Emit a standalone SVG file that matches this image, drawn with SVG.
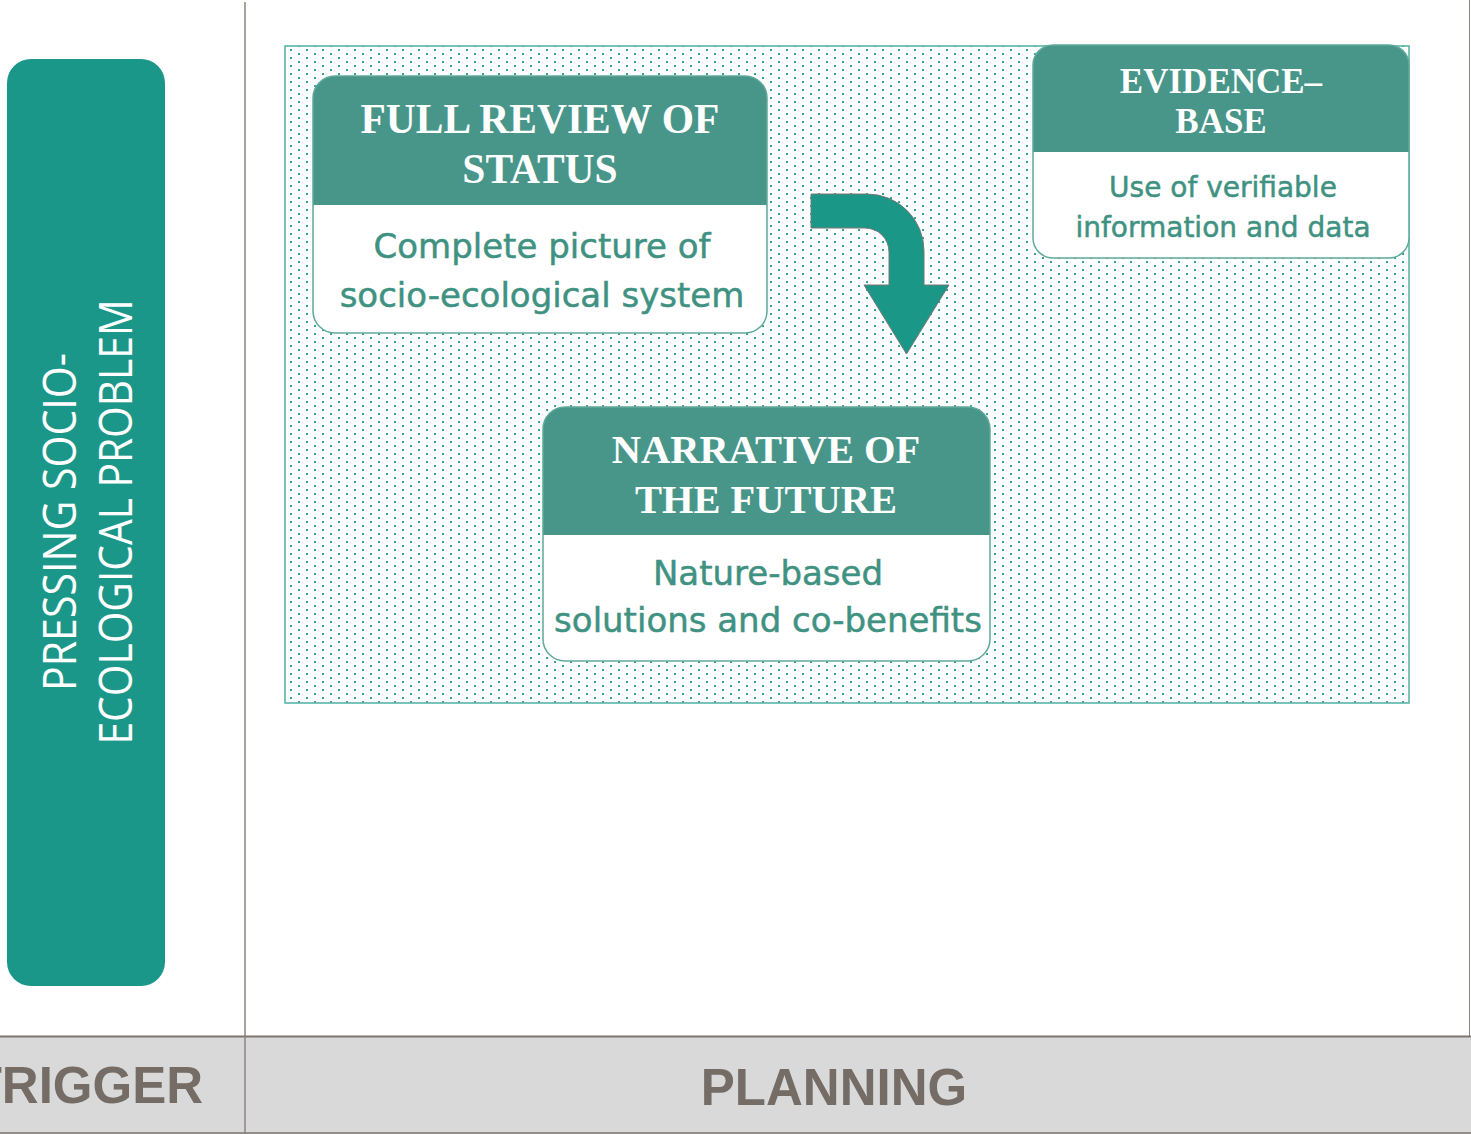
<svg xmlns="http://www.w3.org/2000/svg" width="1471" height="1134" viewBox="0 0 1471 1134">
<defs>
<pattern id="dots" x="0" y="0" width="16" height="8" patternUnits="userSpaceOnUse">
<rect x="2.1" y="1.1" width="1.9" height="1.9" fill="#1f9a8a"/>
<rect x="10.1" y="5.1" width="1.9" height="1.9" fill="#1f9a8a"/>
</pattern>
<style>
.hdr{fill:#48968a}
.box{fill:none;stroke:#5fa99b;stroke-width:1.5}
.body{fill:#ffffff}
.title{font-family:"Liberation Serif","Times New Roman",serif;font-weight:bold;fill:#ffffff;text-anchor:middle}
.sub{font-family:"DejaVu Sans","Liberation Sans",sans-serif;fill:#3f9282;stroke:#3f9282;stroke-width:0.5;text-anchor:middle}
.band{font-family:"Liberation Sans",Arial,sans-serif;font-weight:bold;font-size:51px;fill:#756c65}
.side{font-family:"Open Sans","Liberation Sans",sans-serif;font-weight:400;font-size:46px;fill:#ffffff;text-anchor:middle}
</style>
</defs>
<rect width="1471" height="1134" fill="#ffffff"/>

<g id="frame">
<line x1="245" y1="2" x2="245" y2="1134" stroke="#8c847e" stroke-width="1.5"/>
<line x1="1469.5" y1="0" x2="1469.5" y2="1036" stroke="#8c847e" stroke-width="1"/>
<rect x="0" y="1036" width="1471" height="98" fill="#d9d9d9"/>
<line x1="0" y1="1036.5" x2="1471" y2="1036.5" stroke="#7d756f" stroke-width="2"/>
<line x1="0" y1="1133" x2="1471" y2="1133" stroke="#7d756f" stroke-width="1.5"/>
<line x1="245" y1="1036" x2="245" y2="1134" stroke="#8c847e" stroke-width="1.5"/>
<text class="band" x="203" y="1103" text-anchor="end">TRIGGER</text>
<text class="band" x="834" y="1105" text-anchor="middle">PLANNING</text>
</g>

<g id="trigger-node">
<rect x="7" y="59" width="158" height="927" rx="24" ry="24" fill="#1a9789"/>
<text class="side" transform="translate(76,522) rotate(-90)" textLength="338" lengthAdjust="spacingAndGlyphs">PRESSING SOCIO-</text>
<text class="side" transform="translate(132,522) rotate(-90)" textLength="445" lengthAdjust="spacingAndGlyphs">ECOLOGICAL PROBLEM</text>
</g>

<g id="planning-area">
<rect x="285" y="46" width="1124" height="657" fill="url(#dots)" stroke="#4fb0a2" stroke-width="1.5"/>
</g>

<g id="full-review">
<rect class="body" x="313" y="76" width="454" height="257" rx="22"/>
<path class="hdr" d="M313,98 A22,22 0 0 1 335,76 H745 A22,22 0 0 1 767,98 V205 H313 Z"/>
<rect class="box" x="313" y="76" width="454" height="257" rx="22"/>
<text class="title" x="540" y="133" font-size="41.5">FULL REVIEW OF</text>
<text class="title" x="540" y="183" font-size="41.5">STATUS</text>
<text class="sub" x="542" y="258" font-size="34">Complete picture of</text>
<text class="sub" x="542" y="307" font-size="34">socio-ecological system</text>
</g>

<g id="evidence-base">
<rect class="body" x="1033" y="45" width="376" height="213" rx="20"/>
<path class="hdr" d="M1033,65 A20,20 0 0 1 1053,45 H1389 A20,20 0 0 1 1409,65 V152 H1033 Z"/>
<rect class="box" x="1033" y="45" width="376" height="213" rx="20"/>
<text class="title" x="1221" y="93" font-size="35">EVIDENCE–</text>
<text class="title" x="1221" y="133" font-size="35">BASE</text>
<text class="sub" x="1223" y="197" font-size="28">Use of verifiable</text>
<text class="sub" x="1223" y="237" font-size="28">information and data</text>
</g>

<g id="narrative">
<rect class="body" x="543" y="407" width="447" height="254" rx="22"/>
<path class="hdr" d="M543,429 A22,22 0 0 1 565,407 H968 A22,22 0 0 1 990,429 V535 H543 Z"/>
<rect class="box" x="543" y="407" width="447" height="254" rx="22"/>
<text class="title" x="766" y="463" font-size="40.5">NARRATIVE OF</text>
<text class="title" x="766" y="513" font-size="40.5">THE FUTURE</text>
<text class="sub" x="768" y="585" font-size="34">Nature-based</text>
<text class="sub" x="768" y="632" font-size="34">solutions and co-benefits</text>
</g>

<g id="connectors">
<path d="M811,194 L867,194 A57,57 0 0 1 924,251 L924,285 L949,285 L906.5,354 L864,285 L889,285 L889,252 A24,24 0 0 0 865,228 L811,228 Z" fill="#1a9787" stroke="#777777" stroke-width="1"/>
</g>
</svg>
